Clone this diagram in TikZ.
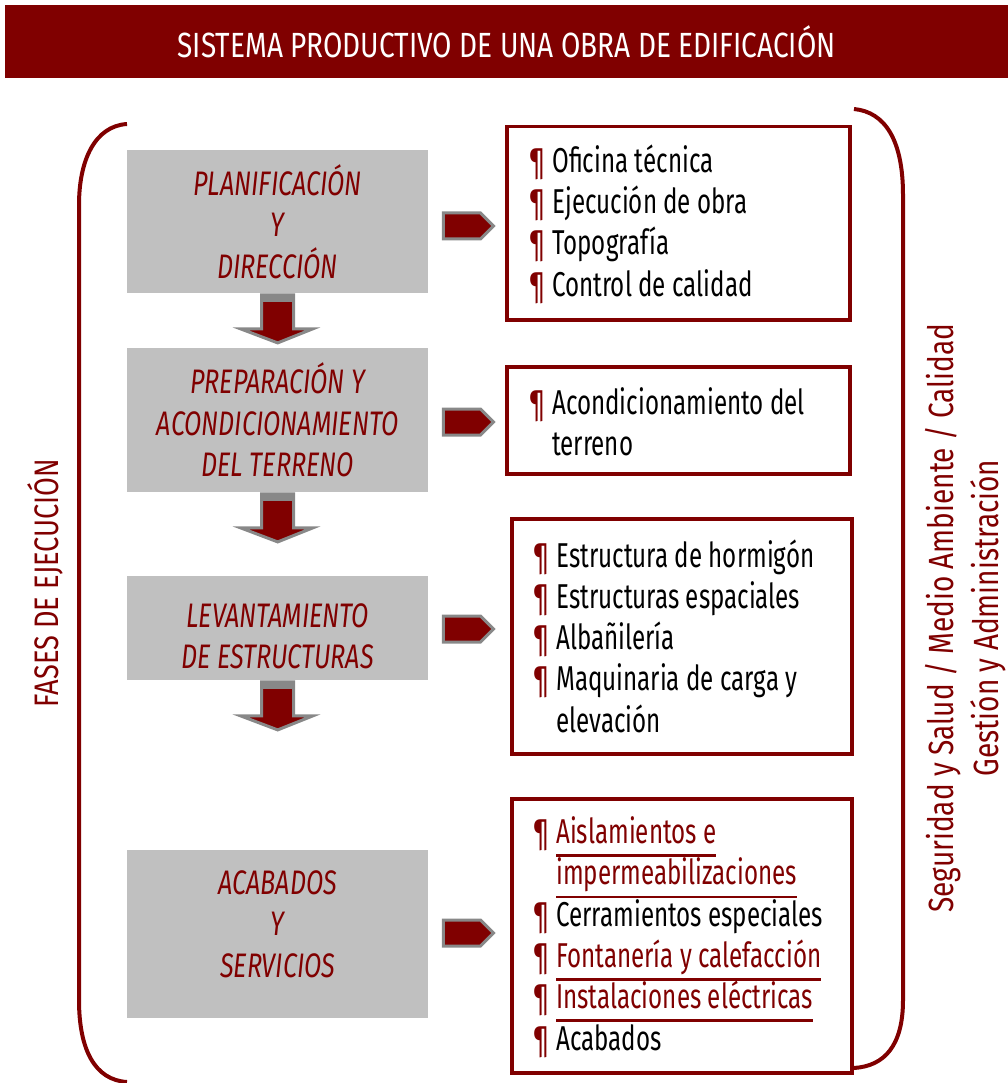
\documentclass[tikz,border=0pt]{standalone}
\usepackage{fontspec}
\setmainfont{Fira Sans}[FakeStretch=0.70]
\newfontfamily\phasefont{Fira Sans}[FakeStretch=0.74]
\newfontfamily\widefont{Fira Sans}[FakeStretch=0.80]
\usetikzlibrary{calc}
\definecolor{dred}{HTML}{800000}
\definecolor{gbox}{HTML}{C0C0C0}
\definecolor{garr}{HTML}{888888}
\newcommand{\pil}{\textcolor{dred}{¶}}
\newcommand{\ind}{\hphantom{¶\ }}
\newlength\ulw
\newcommand{\rl}[1]{\settowidth\ulw{#1}\textcolor{dred}{\rlap{\rule[-0.38em]{\ulw}{2.4pt}}#1}}
\tikzset{
  phase/.style={fill=gbox, draw=none, minimum width=301, inner sep=0},
  phasetext/.style={inner sep=0, text=dred, align=center,
    font=\phasefont\fontsize{34}{41.5}\selectfont\itshape},
  listbox/.style={draw=dred, line width=3.5, fill=white, inner sep=0},
  listtext/.style={align=left, inner sep=0, anchor=west, font=\fontsize{34.5}{41.3}\selectfont},
  rarrow/.style={fill=dred, draw=garr, line width=3, line join=miter},
  darrow/.style={fill=dred, draw=garr, line width=3, line join=miter},
  bracket/.style={draw=dred, line width=4}
}
\begin{document}
\begin{tikzpicture}[x=1pt,y=-1pt]
\useasboundingbox (0,0) rectangle (1008,1083);
% title
\node[fill=dred, minimum width=1003, minimum height=73, inner sep=0, anchor=north west,
  text=white, font=\widefont\fontsize{35}{40}\selectfont] (title) at (5,5)
  {SISTEMA PRODUCTIVO DE UNA OBRA DE EDIFICACIÓN};
% brackets
\draw[bracket] (127,124) .. controls (95,126) and (79,160) .. (79,205) -- (79,1000)
  .. controls (79,1050) and (95,1080) .. (127,1082);
\draw[bracket] (854,109) .. controls (885,112) and (903,140) .. (903,195) -- (903,1000)
  .. controls (903,1045) and (885,1066) .. (854,1068);
% phases
\node[phase, minimum height=143, anchor=north west] (p1) at (127,150) {};
\node[phase, minimum height=144, anchor=north west] (p2) at (127,348) {};
\node[phase, minimum height=104, anchor=north west] (p3) at (127,576) {};
\node[phase, minimum height=168, anchor=north west] (p4) at (127,850) {};
\node[phasetext] (p1t) at ($(p1.center)+(0,0)$) {PLANIFICACIÓN\\Y\\DIRECCIÓN};
\node[phasetext] (p2t) at ($(p2.center)+(0,0)$) {PREPARACIÓN Y\\ACONDICIONAMIENTO\\DEL TERRENO};
\node[phasetext] (p3t) at ($(p3.center)+(0,8)$) {LEVANTAMIENTO\\DE ESTRUCTURAS};
\node[phasetext] (p4t) at ($(p4.center)+(0,-10)$) {ACABADOS\\Y\\SERVICIOS};
% list boxes
\node[listbox, minimum width=343, minimum height=193, anchor=north west] (b1) at (505,125) {};
\node[listbox, minimum width=343, minimum height=107, anchor=north west] (b2) at (505,365) {};
\node[listbox, minimum width=340, minimum height=235, anchor=north west] (b3) at (510,517) {};
\node[listbox, minimum width=340, minimum height=274, anchor=north west] (b4) at (510,797) {};
\node[listtext] (t1) at (528,224) {\pil\ Oficina técnica\\\pil\ Ejecución de obra\\\pil\ Topografía\\\pil\ Control de calidad};
\node[listtext] (t2) at (528,422) {\pil\ Acondicionamiento del\\\ind terreno};
\node[listtext] (t3) at (532,636) {\pil\ Estructura de hormigón\\\pil\ Estructuras espaciales\\\pil\ Albañilería\\\pil\ Maquinaria de carga y\\\ind elevación};
\node[listtext] (t4) at (532,937) {\pil\ \rl{Aislamientos e}\\\ind \rl{impermeabilizaciones}\\\pil\ Cerramientos especiales\\\pil\ \rl{Fontanería y calefacción}\\\pil\ \rl{Instalaciones eléctricas}\\\pil\ Acabados};
% right arrows
\foreach \p/\y in {p1/226, p2/422, p3/629, p4/933}{
  \draw[rarrow] ($(\p.east |- 0,\y)+(15,-13)$) -- ++(37,0) -- ++(13,13) -- ++(-13,13) -- ++(-37,0) -- cycle;
}
% down arrows
\foreach \a/\b in {p1/p2, p2/p3, p3/p4}{
  \coordinate (s) at ($(\a.south)+(0,1.5)$);
  \draw[darrow] ($(s)+(-16,0)$) -- ($(s)+(16,0)$) -- ($(s)+(16,34)$) -- ($(s)+(35,34)$)
     -- ($(s)+(0,48)$) -- ($(s)+(-37,34)$) -- ($(s)+(-16,34)$) -- cycle;
  \fill[garr] ($(s)+(-16,0)$) rectangle ($(s)+(16,7)$);
}
% side labels
\node[rotate=90, text=dred, font=\widefont\fontsize{34}{45}\selectfont, inner sep=0] (fases) at (45,583) {FASES DE EJECUCIÓN};
\node[rotate=90, text=dred, font=\widefont\fontsize{35}{45}\selectfont, inner sep=0, align=center] (side) at (966,618)
  {Seguridad y Salud / Medio Ambiente / Calidad\\Gestión y Administración};
\end{tikzpicture}
\end{document}
